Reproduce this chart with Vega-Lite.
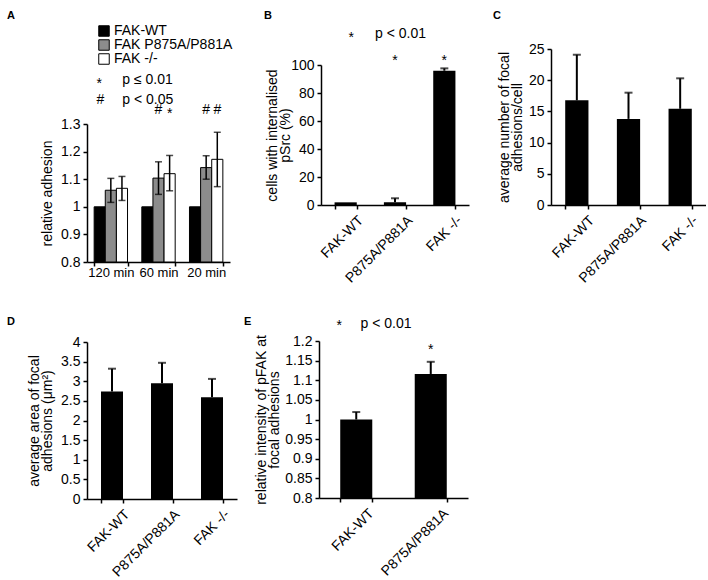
{
  "$schema": "https://vega.github.io/schema/vega-lite/v6.json",
  "background": "white",
  "padding": {"left": 7, "top": 9, "right": 0, "bottom": 0},
  "config": {
    "font": "Liberation Sans",
    "view": {"stroke": null},
    "axis": {
      "domainColor": "black", "domainWidth": 1.5,
      "tickColor": "black", "tickWidth": 1.5, "tickSize": 4,
      "labelColor": "black", "labelFontSize": 14, "labelPadding": 3, "labelOverlap": false,
      "titleColor": "black", "titleFontSize": 14, "titleFontWeight": "normal", "titleLineHeight": 13,
      "grid": false
    },
    "title": {"fontSize": 11, "fontWeight": "bold", "anchor": "start", "frame": "group", "baseline": "alphabetic", "color": "black"},
    "text": {"fontSize": 14, "color": "black"}
  },
  "datasets": {
    "spacer": [],
    "adhesion": [
      {"time": "120 min", "genotype": "FAK-WT", "mean": 1.0},
      {"time": "120 min", "genotype": "FAK P875A/P881A", "mean": 1.06, "lo": 1.016, "hi": 1.103},
      {"time": "120 min", "genotype": "FAK -/-", "mean": 1.067, "lo": 1.023, "hi": 1.11},
      {"time": "60 min", "genotype": "FAK-WT", "mean": 1.0},
      {"time": "60 min", "genotype": "FAK P875A/P881A", "mean": 1.104, "lo": 1.045, "hi": 1.163},
      {"time": "60 min", "genotype": "FAK -/-", "mean": 1.12, "lo": 1.058, "hi": 1.186},
      {"time": "20 min", "genotype": "FAK-WT", "mean": 1.0},
      {"time": "20 min", "genotype": "FAK P875A/P881A", "mean": 1.142, "lo": 1.1, "hi": 1.185},
      {"time": "20 min", "genotype": "FAK -/-", "mean": 1.172, "lo": 1.073, "hi": 1.27}
    ],
    "adhesionSig": [
      {"time": "60 min", "genotype": "FAK P875A/P881A", "mark": "#", "y": 1.351},
      {"time": "60 min", "genotype": "FAK -/-", "mark": "*", "y": 1.337},
      {"time": "20 min", "genotype": "FAK P875A/P881A", "mark": "#", "y": 1.351},
      {"time": "20 min", "genotype": "FAK -/-", "mark": "#", "y": 1.351}
    ],
    "adhesionNotes": [
      {"pos": 0.2, "y": 1.445, "label": "*"},
      {"pos": 0.74, "y": 1.459, "label": "p ≤ 0.01"},
      {"pos": 0.2, "y": 1.387, "label": "#"},
      {"pos": 0.74, "y": 1.387, "label": "p < 0.05"}
    ],
    "psrc": [
      {"genotype": "FAK-WT", "mean": 1.9},
      {"genotype": "P875A/P881A", "mean": 1.9, "hi": 4.8, "sig": "*", "sigY": 102.9},
      {"genotype": "FAK -/-", "mean": 95.9, "hi": 97.6, "sig": "*", "sigY": 102.9}
    ],
    "psrcNotes": [
      {"pos": 0.557, "y": 119.6, "label": "*"},
      {"pos": 1.095, "y": 122.1, "label": "p < 0.01"}
    ],
    "faNumber": [
      {"genotype": "FAK-WT", "mean": 16.77, "hi": 24.08},
      {"genotype": "P875A/P881A", "mean": 13.8, "hi": 18.0},
      {"genotype": "FAK -/-", "mean": 15.42, "hi": 20.3}
    ],
    "faArea": [
      {"genotype": "FAK-WT", "mean": 2.74, "hi": 3.32},
      {"genotype": "P875A/P881A", "mean": 2.95, "hi": 3.47},
      {"genotype": "FAK -/-", "mean": 2.59, "hi": 3.06}
    ],
    "pfak": [
      {"genotype": "FAK-WT", "mean": 1.0, "hi": 1.019},
      {"genotype": "P875A/P881A", "mean": 1.116, "hi": 1.147, "sig": "*", "sigY": 1.178}
    ],
    "pfakNotes": [
      {"pos": 0.235, "y": 1.2382, "label": "*"},
      {"pos": 0.557, "y": 1.2425, "label": "p < 0.01"}
    ]
  },
  "spacing": 29,
  "resolve": {"scale": {"color": "independent"}, "legend": {"color": "independent"}},
  "vconcat": [
    {
      "spacing": 31,
      "resolve": {"scale": {"color": "independent"}, "legend": {"color": "independent"}},
      "hconcat": [
        {"spacing": 0,
         "resolve": {"scale": {"color": "independent"}, "legend": {"color": "independent"}},
         "vconcat": [
        {"width": 1, "height": 1, "data": {"name": "spacer"}, "mark": "rect"},
        {
          "width": 143, "height": 138,
          "title": {"text": "A", "dx": -80, "offset": 3},
          "resolve": {"scale": {"x": "independent"}},
          "layer": [
            {
              "layer": [
                {
                  "data": {"name": "adhesion"},
                  "mark": {"type": "bar", "stroke": "black", "strokeWidth": 1},
                  "encoding": {
                    "x": {"field": "time", "type": "nominal", "scale": {"domain": ["120 min", "60 min", "20 min"], "paddingInner": 0.3, "paddingOuter": 0.15}, "axis": {"title": null, "labelAngle": 0, "tickBand": "extent", "labelPadding": 0, "labelFontSize": 13}},
                    "xOffset": {"field": "genotype", "type": "nominal", "scale": {"domain": ["FAK-WT", "FAK P875A/P881A", "FAK -/-"], "paddingInner": 0, "paddingOuter": 0}},
                    "y": {"field": "mean", "type": "quantitative", "scale": {"domain": [0.8, 1.3], "nice": false}, "axis": {"title": "relative adhesion", "values": [0.8, 0.9, 1, 1.1, 1.2, 1.3], "tickCount": 12, "format": "~g", "labelOverlap": false, "titlePadding": 6}},
                    "y2": {"datum": 0.8},
                    "color": {"field": "genotype", "type": "nominal", "scale": {"domain": ["FAK-WT", "FAK P875A/P881A", "FAK -/-"], "range": ["#000000", "#8c8c8c", "#ffffff"]},
                      "legend": {"orient": "none", "legendX": 10, "legendY": -100, "title": null, "symbolType": "square", "symbolSize": 110, "symbolStrokeColor": "black", "symbolStrokeWidth": 1, "symbolOpacity": 1, "labelFontSize": 14, "labelOffset": 3, "labelColor": "black", "rowPadding": 0, "clipHeight": 14, "padding": 0}}
                  }
                },
                {
                  "data": {"name": "adhesion"},
                  "transform": [{"filter": "isValid(datum.hi)"}],
                  "mark": {"type": "rule", "strokeWidth": 1.5, "color": "black"},
                  "encoding": {
                    "x": {"field": "time", "type": "nominal", "scale": {"domain": ["120 min", "60 min", "20 min"]}},
                    "xOffset": {"field": "genotype", "type": "nominal", "scale": {"domain": ["FAK-WT", "FAK P875A/P881A", "FAK -/-"]}},
                    "y": {"field": "lo", "type": "quantitative", "scale": {"domain": [0.8, 1.3], "nice": false}},
                    "y2": {"field": "hi"}
                  }
                },
                {
                  "data": {"name": "adhesion"},
                  "transform": [{"filter": "isValid(datum.hi)"}],
                  "mark": {"type": "tick", "orient": "horizontal", "size": 7, "thickness": 1.5, "color": "black"},
                  "encoding": {
                    "x": {"field": "time", "type": "nominal", "scale": {"domain": ["120 min", "60 min", "20 min"]}},
                    "xOffset": {"field": "genotype", "type": "nominal", "scale": {"domain": ["FAK-WT", "FAK P875A/P881A", "FAK -/-"]}},
                    "y": {"field": "hi", "type": "quantitative", "scale": {"domain": [0.8, 1.3], "nice": false}}
                  }
                },
                {
                  "data": {"name": "adhesion"},
                  "transform": [{"filter": "isValid(datum.lo)"}],
                  "mark": {"type": "tick", "orient": "horizontal", "size": 7, "thickness": 1.5, "color": "black"},
                  "encoding": {
                    "x": {"field": "time", "type": "nominal", "scale": {"domain": ["120 min", "60 min", "20 min"]}},
                    "xOffset": {"field": "genotype", "type": "nominal", "scale": {"domain": ["FAK-WT", "FAK P875A/P881A", "FAK -/-"]}},
                    "y": {"field": "lo", "type": "quantitative", "scale": {"domain": [0.8, 1.3], "nice": false}}
                  }
                },
                {
                  "data": {"name": "adhesionSig"},
                  "mark": {"type": "text", "baseline": "middle", "align": "center"},
                  "encoding": {
                    "x": {"field": "time", "type": "nominal", "scale": {"domain": ["120 min", "60 min", "20 min"]}},
                    "xOffset": {"field": "genotype", "type": "nominal", "scale": {"domain": ["FAK-WT", "FAK P875A/P881A", "FAK -/-"]}},
                    "y": {"field": "y", "type": "quantitative", "scale": {"domain": [0.8, 1.3], "nice": false}},
                    "text": {"field": "mark"}
                  }
                }
              ]
            },
            {
              "data": {"name": "adhesionNotes"},
              "mark": {"type": "text", "align": "left", "baseline": "middle"},
              "encoding": {
                "x": {"field": "pos", "type": "quantitative", "scale": {"domain": [0, 3], "nice": false}, "axis": null},
                "y": {"field": "y", "type": "quantitative", "scale": {"domain": [0.8, 1.3], "nice": false}},
                "text": {"field": "label"}
              }
            }
          ]
        }
        ]},
        {
          "spacing": 24,
          "hconcat": [
            {"spacing": 0, "vconcat": [
            {"width": 1, "height": 1, "data": {"name": "spacer"}, "mark": "rect"},
            {
              "width": 148, "height": 140,
              "title": {"text": "B", "dx": -57, "offset": 6},
              "resolve": {"scale": {"x": "independent"}},
              "layer": [
                {
                  "layer": [
                    {
                      "data": {"name": "psrc"},
                      "mark": {"type": "bar", "color": "black"},
                      "encoding": {
                        "x": {"field": "genotype", "type": "nominal", "scale": {"domain": ["FAK-WT", "P875A/P881A", "FAK -/-"], "paddingInner": 0.55, "paddingOuter": 0.275}, "axis": {"title": null, "labelAngle": -45, "labelAlign": "right", "labelBaseline": "top", "labelOffset": 10, "labelPadding": 4, "tickBand": "extent"}},
                        "y": {"field": "mean", "type": "quantitative", "scale": {"domain": [0, 100], "nice": false}, "axis": {"title": ["cells with internalised", "pSrc (%)"], "values": [0, 20, 40, 60, 80, 100], "tickCount": 12, "labelOverlap": false, "titlePadding": -2}}
                      }
                    },
                    {
                      "data": {"name": "psrc"},
                      "transform": [{"filter": "isValid(datum.hi)"}],
                      "mark": {"type": "rule", "strokeWidth": 2, "color": "black"},
                      "encoding": {
                        "x": {"field": "genotype", "type": "nominal", "scale": {"domain": ["FAK-WT", "P875A/P881A", "FAK -/-"]}},
                        "y": {"field": "mean", "type": "quantitative", "scale": {"domain": [0, 100], "nice": false}},
                        "y2": {"field": "hi"}
                      }
                    },
                    {
                      "data": {"name": "psrc"},
                      "transform": [{"filter": "isValid(datum.hi)"}],
                      "mark": {"type": "tick", "orient": "horizontal", "size": 8, "thickness": 2, "color": "black"},
                      "encoding": {
                        "x": {"field": "genotype", "type": "nominal", "scale": {"domain": ["FAK-WT", "P875A/P881A", "FAK -/-"]}},
                        "y": {"field": "hi", "type": "quantitative", "scale": {"domain": [0, 100], "nice": false}}
                      }
                    },
                    {
                      "data": {"name": "psrc"},
                      "transform": [{"filter": "isValid(datum.sig)"}],
                      "mark": {"type": "text", "baseline": "middle", "align": "center"},
                      "encoding": {
                        "x": {"field": "genotype", "type": "nominal", "scale": {"domain": ["FAK-WT", "P875A/P881A", "FAK -/-"]}},
                        "y": {"field": "sigY", "type": "quantitative", "scale": {"domain": [0, 100], "nice": false}},
                        "text": {"field": "sig"}
                      }
                    }
                  ]
                },
                {
                  "data": {"name": "psrcNotes"},
                  "mark": {"type": "text", "align": "left", "baseline": "middle"},
                  "encoding": {
                    "x": {"field": "pos", "type": "quantitative", "scale": {"domain": [0, 3], "nice": false}, "axis": null},
                    "y": {"field": "y", "type": "quantitative", "scale": {"domain": [0, 100], "nice": false}},
                    "text": {"field": "label"}
                  }
                }
              ]
            }
            ]},
            {"spacing": 0, "vconcat": [
            {"width": 1, "height": 1, "data": {"name": "spacer"}, "mark": "rect"},
            {
              "width": 155, "height": 156,
              "title": {"text": "C", "dx": -58, "offset": 21},
              "layer": [
                {
                  "data": {"name": "faNumber"},
                  "mark": {"type": "bar", "color": "black"},
                  "encoding": {
                    "x": {"field": "genotype", "type": "nominal", "scale": {"domain": ["FAK-WT", "P875A/P881A", "FAK -/-"], "paddingInner": 0.55, "paddingOuter": 0.275}, "axis": {"title": null, "labelAngle": -45, "labelAlign": "right", "labelBaseline": "top", "labelOffset": 10, "labelPadding": 4, "tickBand": "extent"}},
                    "y": {"field": "mean", "type": "quantitative", "scale": {"domain": [0, 25], "nice": false}, "axis": {"title": ["average number of focal", "adhesions/cell"], "values": [0, 5, 10, 15, 20, 25], "tickCount": 12, "labelOverlap": false, "titlePadding": 4}}
                  }
                },
                {
                  "data": {"name": "faNumber"},
                  "mark": {"type": "rule", "strokeWidth": 2, "color": "black"},
                  "encoding": {
                    "x": {"field": "genotype", "type": "nominal", "scale": {"domain": ["FAK-WT", "P875A/P881A", "FAK -/-"]}},
                    "y": {"field": "mean", "type": "quantitative", "scale": {"domain": [0, 25], "nice": false}},
                    "y2": {"field": "hi"}
                  }
                },
                {
                  "data": {"name": "faNumber"},
                  "mark": {"type": "tick", "orient": "horizontal", "size": 8, "thickness": 2, "color": "black"},
                  "encoding": {
                    "x": {"field": "genotype", "type": "nominal", "scale": {"domain": ["FAK-WT", "P875A/P881A", "FAK -/-"]}},
                    "y": {"field": "hi", "type": "quantitative", "scale": {"domain": [0, 25], "nice": false}}
                  }
                }
              ]
            }
            ]}
          ]
        }
      ]
    },
    {
      "spacing": 7,
      "hconcat": [
        {"spacing": 0, "vconcat": [
        {"width": 1, "height": 1, "data": {"name": "spacer"}, "mark": "rect"},
        {
          "width": 150, "height": 157,
          "title": {"text": "D", "dx": -80, "offset": 8},
          "layer": [
            {
              "data": {"name": "faArea"},
              "mark": {"type": "bar", "color": "black"},
              "encoding": {
                "x": {"field": "genotype", "type": "nominal", "scale": {"domain": ["FAK-WT", "P875A/P881A", "FAK -/-"], "paddingInner": 0.56, "paddingOuter": 0.28}, "axis": {"title": null, "labelAngle": -45, "labelAlign": "right", "labelBaseline": "top", "labelOffset": 10, "labelPadding": 4, "tickBand": "extent"}},
                "y": {"field": "mean", "type": "quantitative", "scale": {"domain": [0, 4], "nice": false}, "axis": {"title": ["average area of focal", "adhesions (μm²)"], "values": [0, 0.5, 1, 1.5, 2, 2.5, 3, 3.5, 4], "tickCount": 12, "format": "~g", "labelOverlap": false, "titlePadding": 6}}
              }
            },
            {
              "data": {"name": "faArea"},
              "mark": {"type": "rule", "strokeWidth": 2, "color": "black"},
              "encoding": {
                "x": {"field": "genotype", "type": "nominal", "scale": {"domain": ["FAK-WT", "P875A/P881A", "FAK -/-"]}},
                "y": {"field": "mean", "type": "quantitative", "scale": {"domain": [0, 4], "nice": false}},
                "y2": {"field": "hi"}
              }
            },
            {
              "data": {"name": "faArea"},
              "mark": {"type": "tick", "orient": "horizontal", "size": 8, "thickness": 2, "color": "black"},
              "encoding": {
                "x": {"field": "genotype", "type": "nominal", "scale": {"domain": ["FAK-WT", "P875A/P881A", "FAK -/-"]}},
                "y": {"field": "hi", "type": "quantitative", "scale": {"domain": [0, 4], "nice": false}}
              }
            }
          ]
        }
        ]},
        {"spacing": 0, "vconcat": [
        {"width": 1, "height": 1, "data": {"name": "spacer"}, "mark": "rect"},
        {
          "width": 149, "height": 157,
          "title": {"text": "E", "dx": -75, "offset": -10},
          "resolve": {"scale": {"x": "independent"}},
          "layer": [
            {
              "layer": [
                {
                  "data": {"name": "pfak"},
                  "mark": {"type": "bar", "color": "black"},
                  "encoding": {
                    "x": {"field": "genotype", "type": "nominal", "scale": {"domain": ["FAK-WT", "P875A/P881A"], "paddingInner": 0.57, "paddingOuter": 0.285}, "axis": {"title": null, "labelAngle": -45, "labelAlign": "right", "labelBaseline": "top", "labelOffset": 10, "labelPadding": 4, "tickBand": "extent"}},
                    "y": {"field": "mean", "type": "quantitative", "scale": {"domain": [0.8, 1.2], "nice": false}, "axis": {"title": ["relative intensity of pFAK at", "focal adhesions"], "values": [0.8, 0.85, 0.9, 0.95, 1, 1.05, 1.1, 1.15, 1.2], "tickCount": 12, "format": "~g", "labelOverlap": false, "titlePadding": 3}},
                    "y2": {"datum": 0.8}
                  }
                },
                {
                  "data": {"name": "pfak"},
                  "mark": {"type": "rule", "strokeWidth": 2, "color": "black"},
                  "encoding": {
                    "x": {"field": "genotype", "type": "nominal", "scale": {"domain": ["FAK-WT", "P875A/P881A"]}},
                    "y": {"field": "mean", "type": "quantitative", "scale": {"domain": [0.8, 1.2], "nice": false}},
                    "y2": {"field": "hi"}
                  }
                },
                {
                  "data": {"name": "pfak"},
                  "mark": {"type": "tick", "orient": "horizontal", "size": 8, "thickness": 2, "color": "black"},
                  "encoding": {
                    "x": {"field": "genotype", "type": "nominal", "scale": {"domain": ["FAK-WT", "P875A/P881A"]}},
                    "y": {"field": "hi", "type": "quantitative", "scale": {"domain": [0.8, 1.2], "nice": false}}
                  }
                },
                {
                  "data": {"name": "pfak"},
                  "transform": [{"filter": "isValid(datum.sig)"}],
                  "mark": {"type": "text", "baseline": "middle", "align": "center"},
                  "encoding": {
                    "x": {"field": "genotype", "type": "nominal", "scale": {"domain": ["FAK-WT", "P875A/P881A"]}},
                    "y": {"field": "sigY", "type": "quantitative", "scale": {"domain": [0.8, 1.2], "nice": false}},
                    "text": {"field": "sig"}
                  }
                }
              ]
            },
            {
              "data": {"name": "pfakNotes"},
              "mark": {"type": "text", "align": "left", "baseline": "middle"},
              "encoding": {
                "x": {"field": "pos", "type": "quantitative", "scale": {"domain": [0, 2], "nice": false}, "axis": null},
                "y": {"field": "y", "type": "quantitative", "scale": {"domain": [0.8, 1.2], "nice": false}},
                "text": {"field": "label"}
              }
            }
          ]
        }
        ]}
      ]
    }
  ]
}
